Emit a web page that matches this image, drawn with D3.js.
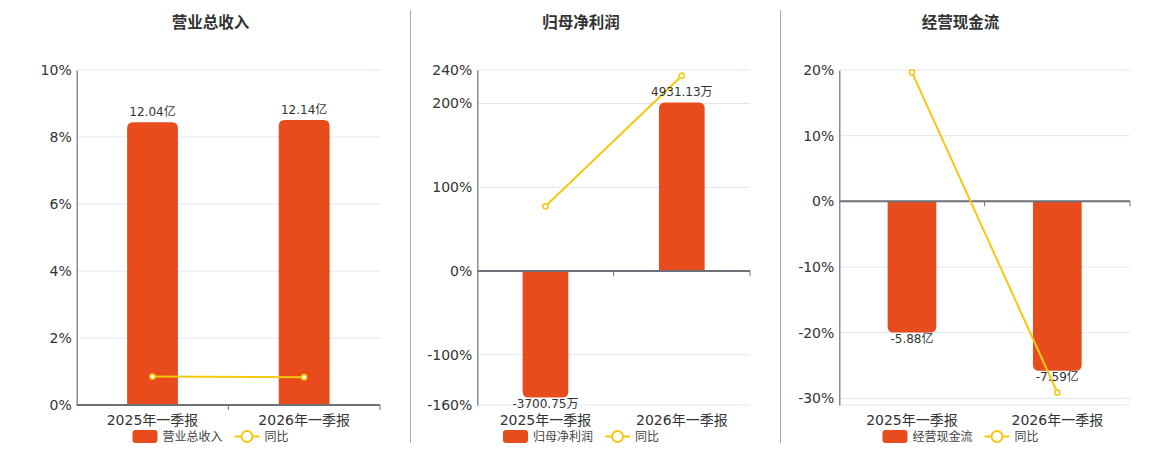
<!DOCTYPE html>
<html>
<head>
<meta charset="utf-8">
<script src="https://cdn.jsdelivr.net/npm/d3@7"></script>
<style>
  body { margin: 0; background: #fff; }
  svg { font-family: "DejaVu Sans", "Noto Sans CJK SC", sans-serif; }
</style>
</head>
<body>
<div id="vis"></div>
<script>
// data
const categories = ["2025年一季报", "2026年一季报"]

const revenue = [12.04, 12.14]          // 亿
const revenueYoy = [0.85, 0.83]         // %
const netProfit = [-3700.75, 4931.13]   // 万
const netProfitYoy = [77.3, 233.25]
const cashFlow = [-5.88, -7.59]         // 亿
const cashFlowYoy = [19.65, -29.1]

const revenueTicks = [0, 2, 4, 6, 8, 10]
const netProfitTicks = [-160, -100, 0, 100, 200, 240]
const cashFlowTicks = [-30, -20, -10, 0, 10, 20]

const barColor = "#e84c1d"
const lineColor = "#f4c80f"
const axisColor = "#6e7079"
const gridColor = "#e0e6f1"

const plotTop = 70, plotBottom = 405

const charts = [
  {title: "营业总收入", name: "营业总收入", bars: revenue, yoy: revenueYoy, unit: "亿",
   ticks: revenueTicks, pctDomain: [0, 10], barDomain: [0, 14.27],
   left: 76.7, right: 380, cx: 210.5},
  {title: "归母净利润", name: "归母净利润", bars: netProfit, yoy: netProfitYoy, unit: "万",
   ticks: netProfitTicks, pctDomain: [-160, 240], barDomain: [-3920, 5880],
   left: 477.3, right: 750, cx: 581},
  {title: "经营现金流", name: "经营现金流", bars: cashFlow, yoy: cashFlowYoy, unit: "亿",
   ticks: cashFlowTicks, pctDomain: [-31, 20], barDomain: [-9.13, 5.89],
   left: 839.3, right: 1130, cx: 960.5}
]

// plain hyphen for negatives, like the original
const fmt = d => d.toFixed(2)

const svg = d3.select("#vis")
  .append("svg")
  .attr("width", 1160)
  .attr("height", 450)

// separators between the panels
svg.selectAll("line.sep")
  .data([410.5, 780.5])
  .enter()
  .append("line")
  .attr("x1", d => d).attr("x2", d => d)
  .attr("y1", 10).attr("y2", 443)
  .style("stroke", "#aaa")
  .style("stroke-width", 1)

// bar path with rounded outer end
function barPath(x, w, y0, y1, r) {
  let h = Math.abs(y1 - y0)
  r = Math.min(r, h, w / 2)
  if (y1 < y0) {
    return `M${x},${y0}V${y1 + r}Q${x},${y1} ${x + r},${y1}H${x + w - r}Q${x + w},${y1} ${x + w},${y1 + r}V${y0}Z`
  } else {
    return `M${x},${y0}V${y1 - r}Q${x},${y1} ${x + r},${y1}H${x + w - r}Q${x + w},${y1} ${x + w},${y1 - r}V${y0}Z`
  }
}

charts.forEach(c => {
  const g = svg.append("g")

  const x = d3.scaleBand().domain(categories).range([c.left, c.right])
  const y = d3.scaleLinear().domain(c.pctDomain).range([plotBottom, plotTop])
  const yBar = d3.scaleLinear().domain(c.barDomain).range([plotBottom, plotTop])
  const zero = y(0)

  // title
  g.append("text")
    .attr("x", c.cx).attr("y", 23)
    .attr("text-anchor", "middle")
    .attr("dominant-baseline", "central")
    .style("font-size", "15.5px")
    .style("font-weight", "bold")
    .style("fill", "#333")
    .text(c.title)

  // grid lines
  let gridVals = c.ticks.slice()
  if (c.pctDomain[0] < d3.min(c.ticks)) gridVals.push(c.pctDomain[0])
  g.selectAll("line.grid")
    .data(gridVals.filter(d => d !== 0))
    .enter()
    .append("line")
    .attr("x1", c.left).attr("x2", c.right)
    .attr("y1", d => y(d)).attr("y2", d => y(d))
    .style("stroke", gridColor)
    .style("stroke-width", 1)

  // y axis
  const yAxis = d3.axisLeft(y)
    .tickValues(c.ticks)
    .tickSize(0)
    .tickPadding(5)
    .tickFormat(d => d + "%")
  const ya = g.append("g")
    .attr("transform", `translate(${c.left},0)`)
    .call(yAxis)
  ya.select(".domain").style("stroke", axisColor).style("stroke-width", 1.2)
  ya.selectAll("text")
    .style("font-size", "14px")
    .style("fill", "#333")
    .style("font-family", "DejaVu Sans, sans-serif")

  // bars
  const bw = x.bandwidth() * 0.335
  g.selectAll("path.bar")
    .data(c.bars)
    .enter()
    .append("path")
    .attr("d", (d, i) => {
      const bx = x(categories[i]) + (x.bandwidth() - bw) / 2
      return barPath(bx, bw, yBar(0), yBar(d), 6)
    })
    .style("fill", barColor)

  // x axis at zero
  const xa = g.append("g")
    .attr("transform", `translate(0,${zero})`)
  xa.append("line")
    .attr("x1", c.left).attr("x2", c.right)
    .style("stroke", axisColor).style("stroke-width", 2)
  xa.selectAll("line.tick")
    .data([x(categories[1]), c.right])
    .enter()
    .append("line")
    .attr("x1", d => d).attr("x2", d => d)
    .attr("y1", 0).attr("y2", 5)
    .style("stroke", axisColor).style("stroke-width", 1)

  // category labels
  g.selectAll("text.cat")
    .data(categories)
    .enter()
    .append("text")
    .attr("x", d => x(d) + x.bandwidth() / 2)
    .attr("y", 420)
    .attr("text-anchor", "middle")
    .attr("dominant-baseline", "central")
    .style("font-size", "14px")
    .style("fill", "#333")
    .text(d => d)

  // yoy line
  const line = d3.line()
    .x((d, i) => x(categories[i]) + x.bandwidth() / 2)
    .y(d => y(d))
  g.append("path")
    .datum(c.yoy)
    .attr("d", line)
    .style("fill", "none")
    .style("stroke", lineColor)
    .style("stroke-width", 2)
  g.selectAll("circle.pt")
    .data(c.yoy)
    .enter()
    .append("circle")
    .attr("cx", (d, i) => x(categories[i]) + x.bandwidth() / 2)
    .attr("cy", d => y(d))
    .attr("r", 2.6)
    .style("fill", "#fff")
    .style("stroke", lineColor)
    .style("stroke-width", 1.5)

  // bar value labels
  g.selectAll("text.val")
    .data(c.bars)
    .enter()
    .append("text")
    .attr("x", (d, i) => x(categories[i]) + x.bandwidth() / 2)
    .attr("y", d => d >= 0 ? yBar(d) - 10 : yBar(d) + 6)
    .attr("text-anchor", "middle")
    .attr("dominant-baseline", "central")
    .style("font-size", "12px")
    .style("fill", "#333")
    .text(d => fmt(d) + c.unit)

  // legend
  const lg = g.append("g")
  const t1 = lg.append("text")
    .attr("y", 436.5)
    .attr("dominant-baseline", "central")
    .style("font-size", "12px")
    .style("fill", "#444")
    .text(c.name)
  const t2 = lg.append("text")
    .attr("y", 436.5)
    .attr("dominant-baseline", "central")
    .style("font-size", "12px")
    .style("fill", "#444")
    .text("同比")
  const w1 = t1.node().getComputedTextLength()
  const w2 = t2.node().getComputedTextLength()
  const total = 25 + 5 + w1 + 12 + 25 + 5 + w2
  let lx = c.cx - total / 2
  lg.append("rect")
    .attr("x", lx).attr("y", 430)
    .attr("width", 25).attr("height", 13)
    .attr("rx", 3)
    .style("fill", barColor)
  t1.attr("x", lx + 30)
  lx = lx + 30 + w1 + 12
  lg.append("line")
    .attr("x1", lx).attr("x2", lx + 25)
    .attr("y1", 436.5).attr("y2", 436.5)
    .style("stroke", lineColor).style("stroke-width", 2)
  lg.append("circle")
    .attr("cx", lx + 12.5).attr("cy", 436.5).attr("r", 5.5)
    .style("fill", "#fff")
    .style("stroke", lineColor).style("stroke-width", 2)
  t2.attr("x", lx + 30)
})
</script>
</body>
</html>
